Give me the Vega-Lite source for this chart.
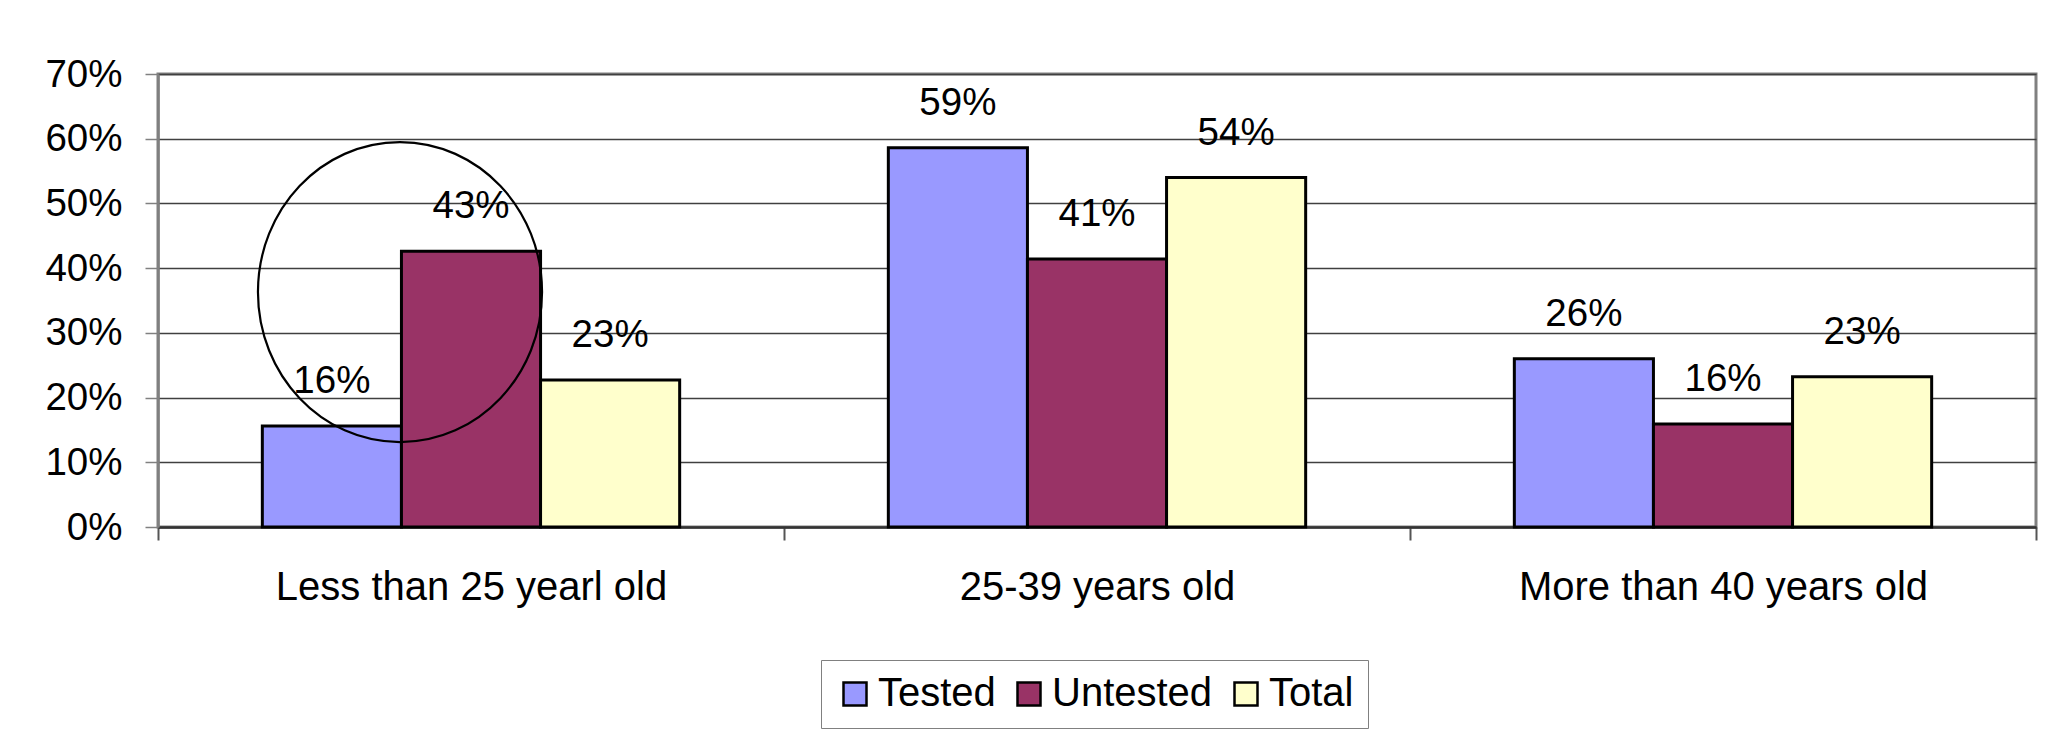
{
  "$schema": "https://vega.github.io/schema/vega-lite/v6.json",
  "autosize": "none",
  "width": 1878,
  "height": 453,
  "padding": {"left": 158, "top": 74, "right": 33, "bottom": 209},
  "background": "white",
  "config": {
    "font": "Liberation Sans",
    "view": {"stroke": "#808080", "strokeWidth": 3}
  },
  "data": {
    "values": [
      {"age": "Less than 25 yearl old", "group": "Tested", "value": 0.156},
      {"age": "Less than 25 yearl old", "group": "Untested", "value": 0.426},
      {"age": "Less than 25 yearl old", "group": "Total", "value": 0.227},
      {"age": "25-39 years old", "group": "Tested", "value": 0.586},
      {"age": "25-39 years old", "group": "Untested", "value": 0.414},
      {"age": "25-39 years old", "group": "Total", "value": 0.540},
      {"age": "More than 40 years old", "group": "Tested", "value": 0.260},
      {"age": "More than 40 years old", "group": "Untested", "value": 0.159},
      {"age": "More than 40 years old", "group": "Total", "value": 0.232}
    ]
  },
  "encoding": {
    "x": {
      "field": "age",
      "type": "nominal",
      "sort": ["Less than 25 yearl old", "25-39 years old", "More than 40 years old"],
      "scale": {"paddingInner": 0, "paddingOuter": 0},
      "axis": {
        "title": null,
        "labelAngle": 0,
        "labelFontSize": 40,
        "labelLimit": 0,
        "labelColor": "black",
        "labelPadding": 27,
        "tickSize": 13,
        "tickBand": "extent",
        "tickColor": "#555555",
        "tickWidth": 2,
        "domainColor": "#333333",
        "domainWidth": 2.5,
        "grid": false
      }
    },
    "y": {
      "field": "value",
      "type": "quantitative",
      "scale": {"domain": [0, 0.7], "nice": false},
      "axis": {
        "title": null,
        "format": ".0%",
        "values": [0, 0.1, 0.2, 0.3, 0.4, 0.5, 0.6, 0.7],
        "labelFontSize": 38.5,
        "labelColor": "black",
        "labelPadding": 23,
        "tickSize": 13,
        "tickColor": "#808080",
        "tickWidth": 1.5,
        "domainColor": "#808080",
        "domainWidth": 2.5,
        "grid": true,
        "gridColor": "#404040",
        "gridWidth": 1.5
      }
    }
  },
  "layer": [
    {
      "mark": {"type": "bar", "stroke": "black", "strokeWidth": 3},
      "encoding": {
        "xOffset": {
          "field": "group",
          "type": "nominal",
          "sort": ["Tested", "Untested", "Total"],
          "scale": {"paddingInner": 0, "paddingOuter": 0.75}
        },
        "color": {
          "field": "group",
          "type": "nominal",
          "sort": ["Tested", "Untested", "Total"],
          "scale": {"domain": ["Tested", "Untested", "Total"], "range": ["#9999FF", "#993366", "#FFFFCC"]},
          "legend": {
            "title": null,
            "orient": "none",
            "legendX": 663,
            "legendY": 586,
            "direction": "horizontal",
            "labelFont": "Liberation Sans",
            "labelFontSize": 40,
            "labelLimit": 0,
            "labelColor": "black",
            "labelOffset": 3,
            "columnPadding": 13,
            "symbolType": "square",
            "symbolSize": 529,
            "symbolStrokeColor": "black",
            "symbolStrokeWidth": 2.5,
            "symbolOpacity": 1,
            "strokeColor": "#808080",
            "padding": 14
          }
        }
      }
    },
    {
      "data": {"values": [{"age": "Less than 25 yearl old", "value": 0.363}]},
      "mark": {
        "type": "point",
        "shape": "M -0.947 0 A 0.947 1 0 1 0 0.947 0 A 0.947 1 0 1 0 -0.947 0 Z",
        "size": 90000,
        "filled": false,
        "stroke": "black",
        "strokeWidth": 2.2,
        "opacity": 1,
        "xOffset": -71
      },
      "encoding": {}
    },
    {
      "mark": {"type": "text", "baseline": "alphabetic", "dy": -33, "fontSize": 38.5, "color": "black"},
      "encoding": {
        "xOffset": {"field": "group", "type": "nominal", "sort": ["Tested", "Untested", "Total"]},
        "text": {"field": "value", "type": "quantitative", "format": ".0%"}
      }
    }
  ]
}
